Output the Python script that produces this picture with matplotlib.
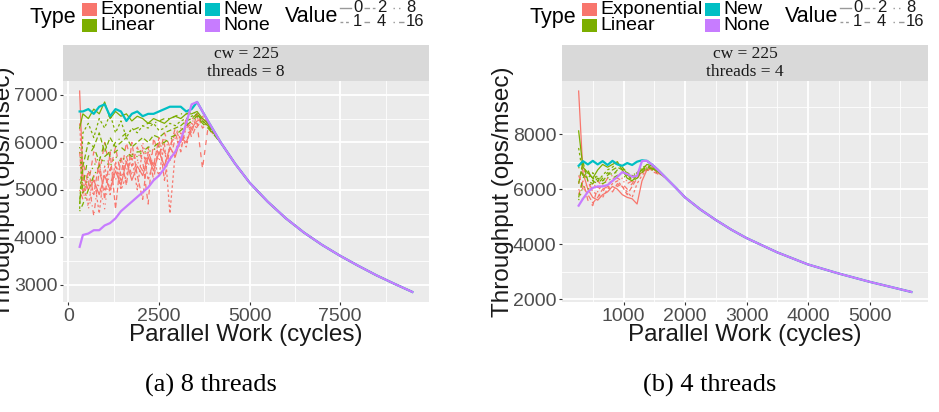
import matplotlib
matplotlib.use("Agg")
import matplotlib.pyplot as plt
from matplotlib.patches import Rectangle
from matplotlib.lines import Line2D

# -------------------------
# Data
# -------------------------
values = [0, 1, 2, 4, 8, 16]

# panel (a): 8 threads
work_8 = [310, 400, 550, 700, 850, 1000, 1150, 1300, 1450, 1600, 1750, 1900, 2050,
          2200, 2350, 2500, 2650, 2800, 2950, 3100, 3250, 3400, 3550, 3700, 3850]
tail_work_8 = [4200, 4600, 5000, 5500, 6000, 6500, 7000, 7500, 8000, 8500, 9000, 9490]
tail_tp_8 = [6000, 5550, 5150, 4750, 4400, 4100, 3840, 3610, 3400, 3200, 3020, 2850]

exp_8 = [
    [7080, 5300, 5000, 5200, 4900, 5300, 5000, 5400, 5100, 5600, 5200, 5500, 5300, 5700, 5400, 5800, 5500, 5900, 5700, 6100, 6000, 6300, 6450, 6500, 6400],
    [6400, 5100, 4700, 5300, 4500, 5500, 4900, 5600, 5000, 5300, 5700, 5000, 5900, 5200, 5600, 5300, 6000, 4500, 5800, 6200, 5900, 6400, 6300, 6550, 6400],
    [5800, 4900, 5400, 4900, 5600, 4800, 5800, 4600, 5700, 5100, 6000, 5300, 4800, 5800, 5500, 6100, 5200, 5900, 6200, 5800, 6400, 6200, 6600, 6300, 6400],
    [5500, 5600, 5100, 5800, 5300, 6000, 5400, 5900, 5300, 6000, 5500, 5900, 5600, 4700, 6100, 5700, 6200, 5900, 6300, 6000, 6500, 6100, 6400, 5450, 6300],
    [5200, 5300, 4600, 5000, 5100, 4600, 5500, 5200, 5700, 5400, 5800, 5600, 6000, 5500, 5900, 5600, 6100, 5800, 6200, 6300, 6000, 6500, 6500, 6400, 6350],
    [5000, 4800, 5200, 4450, 5400, 5000, 5100, 5500, 5200, 5700, 5300, 5600, 5400, 5900, 5200, 6000, 5800, 5600, 6100, 5900, 6300, 6400, 6600, 6500, 6400],
]
lin_8 = [
    [6300, 6600, 6500, 6700, 6600, 6850, 6500, 6650, 6550, 6600, 6450, 6550, 6500, 6400, 6500, 6450, 6400, 6500, 6550, 6500, 6600, 6600, 6650, 6500, 6400],
    [4600, 6200, 6400, 6100, 6500, 6300, 6600, 6200, 6450, 6100, 6300, 6200, 6350, 6300, 6400, 6250, 6300, 6400, 6350, 6450, 6500, 6550, 6600, 6450, 6350],
    [4700, 5500, 6000, 5900, 6200, 5800, 6100, 5900, 6000, 6100, 5900, 6000, 6100, 6000, 6150, 6100, 6200, 6250, 6300, 6350, 6450, 6500, 6600, 6450, 6350],
    [4800, 5100, 5700, 5900, 5600, 6000, 5700, 5800, 5900, 5800, 5700, 5800, 5800, 5900, 5900, 6000, 6000, 6100, 6150, 6250, 6350, 6450, 6550, 6400, 6300],
    [5900, 4900, 5300, 5500, 5700, 5600, 5500, 5700, 5600, 5700, 5750, 5700, 5800, 5800, 5850, 5900, 6000, 6050, 6150, 6250, 6350, 6450, 6550, 6400, 6300],
    [4550, 4700, 5000, 5300, 5500, 5700, 5800, 6000, 6100, 6200, 6250, 6300, 6350, 6400, 6400, 6450, 6500, 6500, 6550, 6600, 6600, 6650, 6600, 6450, 6350],
]
new_8 = [6650, 6650, 6700, 6600, 6750, 6800, 6550, 6700, 6650, 6450, 6600, 6650, 6550,
         6600, 6600, 6650, 6700, 6750, 6750, 6750, 6650, 6700, 6850, 6650, 6450]
none_8 = [3800, 4050, 4080, 4150, 4150, 4250, 4300, 4400, 4550, 4650, 4750, 4850, 4950,
          5050, 5200, 5300, 5450, 5650, 5800, 6050, 6400, 6800, 6850, 6650, 6450]

# panel (b): 4 threads
work_4 = [270, 340, 420, 500, 580, 660, 740, 820, 900, 980, 1060, 1140, 1220, 1300, 1380, 1460, 1560]
tail_work_4 = [1680, 1850, 2000, 2250, 2500, 2750, 3000, 3500, 4000, 4500, 5000, 5680]
tail_tp_4 = [6430, 6050, 5700, 5260, 4880, 4530, 4220, 3700, 3260, 2930, 2630, 2260]

exp_4 = [
    [9570, 6600, 6000, 5700, 5600, 5800, 5900, 6100, 6000, 5800, 5700, 5650, 5460, 6300, 6700, 6800, 6600],
    [6200, 6800, 6300, 5900, 5800, 5700, 6000, 6200, 6300, 6100, 5900, 5700, 6200, 6500, 6700, 6750, 6650],
    [6500, 6100, 5800, 5500, 5700, 6000, 6100, 5900, 6200, 6100, 5800, 6100, 6400, 6600, 6750, 6700, 6600],
    [5800, 6300, 5600, 5400, 6100, 5900, 6200, 6300, 6100, 6200, 6000, 6200, 6500, 6600, 6700, 6650, 6550],
    [6000, 5600, 5900, 6200, 5900, 6200, 6000, 6400, 6300, 6400, 6300, 6400, 6600, 6700, 6800, 6700, 6600],
    [6300, 6000, 6200, 6000, 6300, 6100, 6400, 6500, 6400, 6300, 6200, 6300, 6500, 6600, 6700, 6750, 6650],
]
lin_4 = [
    [8120, 6800, 6600, 6400, 6700, 6900, 6800, 6900, 7000, 6700, 6400, 6300, 6500, 6700, 6900, 6850, 6700],
    [7500, 6500, 6400, 6600, 6300, 6500, 6700, 6800, 6950, 6800, 6500, 6400, 6600, 6800, 6850, 6800, 6650],
    [6200, 7000, 6300, 6200, 6400, 6300, 6500, 6700, 6800, 6700, 6600, 6500, 6400, 6700, 6800, 6750, 6650],
    [5700, 6400, 6700, 6300, 6200, 6400, 6600, 6500, 6700, 6800, 6600, 6300, 6400, 6600, 6800, 6750, 6650],
    [5600, 6100, 6000, 6300, 6500, 6300, 6400, 6600, 6600, 6500, 6400, 6400, 6500, 6600, 6700, 6700, 6600],
    [6800, 6500, 6600, 6400, 6300, 6200, 6300, 6400, 6500, 6600, 6500, 6500, 6600, 6700, 6750, 6750, 6650],
]
new_4 = [6850, 7020, 6900, 7030, 6900, 7020, 6880, 7030, 6900, 6850, 6950, 6880, 7000, 7050, 7030, 6900, 6700]
none_4 = [5400, 5650, 5900, 6050, 6100, 6100, 6150, 6300, 6450, 6620, 6550, 6450, 6480, 7020, 7030, 6900, 6700]

type_colors = {"Exponential": "#F8766D", "Linear": "#7CAE00", "New": "#00BFC4", "None": "#C77CFF"}
value_styles = {0: "-", 1: (0, (2, 2)), 2: (0, (4, 2)), 4: (0, (4, 4)), 8: (0, (1, 3)), 16: (0, (1, 3, 4, 3))}

W, H = 939, 412
plt.rcParams["font.family"] = ["Liberation Sans", "DejaVu Sans"]
fig = plt.figure(figsize=(W / 100, H / 100), dpi=100)


def fx(px):
    return px / W


def fy(py):
    return 1 - py / H


def draw_panel(ax, work, tail_w, tail_t, exps, lins, new, none, strip,
               xticks, xminor, yticks, yminor):
    ax.set_facecolor("#EBEBEB")
    for s in ax.spines.values():
        s.set_visible(False)
    xs = work + tail_w
    for vals, v in zip(exps, values):
        ax.plot(xs, vals + tail_t, color=type_colors["Exponential"], lw=0.9,
                ls=value_styles[v], zorder=2)
    for vals, v in zip(lins, values):
        ax.plot(xs, vals + tail_t, color=type_colors["Linear"], lw=0.9,
                ls=value_styles[v], zorder=2)
    ax.plot(xs, new + tail_t, color=type_colors["New"], lw=1.6, zorder=3)
    ax.plot(xs, none + tail_t, color=type_colors["None"], lw=1.6, zorder=3)
    ax.margins(x=0.05, y=0.05)

    ax.set_xticks(xticks)
    ax.set_xticks(xminor, minor=True)
    ax.set_yticks(yticks)
    ax.set_yticks(yminor, minor=True)
    ax.grid(which="major", color="white", lw=1.3, zorder=0)
    ax.grid(which="minor", color="white", lw=0.6, zorder=0)
    ax.set_axisbelow(True)
    ax.tick_params(which="major", length=2.5, width=0.8, color="#333333",
                   labelsize=14, labelcolor="#4D4D4D", pad=1.5)
    ax.tick_params(which="minor", length=0)

    ax.set_xlabel("Parallel Work (cycles)", fontsize=17.5, color="#1A1A1A")
    ax.set_ylabel("Throughput (ops/msec)", fontsize=17.5, color="#1A1A1A")
    ax.xaxis.set_label_coords(0.5, -(335 - 302) / 221)
    ax.xaxis.label.set_va("center")
    ax.yaxis.set_label_coords(-59 / 366, 0.5)
    ax.yaxis.label.set_va("center")

    # facet strip
    sh = 36 / 221
    ax.add_patch(Rectangle((0, 1), 1, sh, transform=ax.transAxes, facecolor="#D9D9D9",
                           edgecolor="none", clip_on=False))
    ax.text(0.5, 1 + 27 / 221, "cw = 225", transform=ax.transAxes, ha="center",
            va="center", fontsize=12.5, family="Liberation Serif", color="#1A1A1A")
    ax.text(0.5, 1 + 9 / 221, strip, transform=ax.transAxes, ha="center",
            va="center", fontsize=12.5, family="Liberation Serif", color="#1A1A1A")


def draw_legend(ox):
    fig.text(fx(ox + 30), fy(17), "Type", fontsize=15.5, ha="left", va="center")
    keys = [("Exponential", 82, 100, 3), ("Linear", 82, 100, 19),
            ("New", 205, 223, 3), ("None", 205, 223, 19)]
    for name, kx, tx, ky in keys:
        fig.patches.append(Rectangle((fx(ox + kx), fy(ky + 13)), 15 / W, 13 / H,
                                     transform=fig.transFigure, facecolor=type_colors[name],
                                     edgecolor="none"))
        fig.text(fx(ox + tx), fy(ky + 6.5), name, fontsize=14, ha="left", va="center")
    fig.text(fx(ox + 285), fy(16), "Value", fontsize=15.5, ha="left", va="center")
    cols = [353, 377, 406]
    for i, v in enumerate(values):
        col, row = i // 2, i % 2
        dx = cols[col]
        ry = 7 if row == 0 else 21
        fig.lines.append(Line2D([fx(ox + dx - 13), fx(ox + dx - 2)], [fy(ry + 1), fy(ry + 1)],
                                transform=fig.transFigure, color="#999999", lw=1.0,
                                ls=value_styles[v]))
        fig.text(fx(ox + dx), fy(ry), str(v), fontsize=12, ha="left", va="center",
                 color="#1A1A1A")


ax1 = fig.add_axes([fx(63), fy(302), 366 / W, 221 / H])
draw_panel(ax1, work_8, tail_work_8, tail_tp_8, exp_8, lin_8, new_8, none_8, "threads = 8",
           [0, 2500, 5000, 7500], [1250, 3750, 6250, 8750],
           [3000, 4000, 5000, 6000, 7000], [3500, 4500, 5500, 6500])

ax2 = fig.add_axes([fx(562), fy(302), 366 / W, 221 / H])
draw_panel(ax2, work_4, tail_work_4, tail_tp_4, exp_4, lin_4, new_4, none_4, "threads = 4",
           [1000, 2000, 3000, 4000, 5000], [500, 1500, 2500, 3500, 4500, 5500],
           [2000, 4000, 6000, 8000], [3000, 5000, 7000, 9000])

draw_legend(0)
draw_legend(500)

fig.text(fx(211), fy(385), "(a) 8 threads", fontsize=19, family="Liberation Serif",
         ha="center", va="center")
fig.text(fx(710), fy(385), "(b) 4 threads", fontsize=19, family="Liberation Serif",
         ha="center", va="center")

fig.savefig("out.png", dpi=100)
